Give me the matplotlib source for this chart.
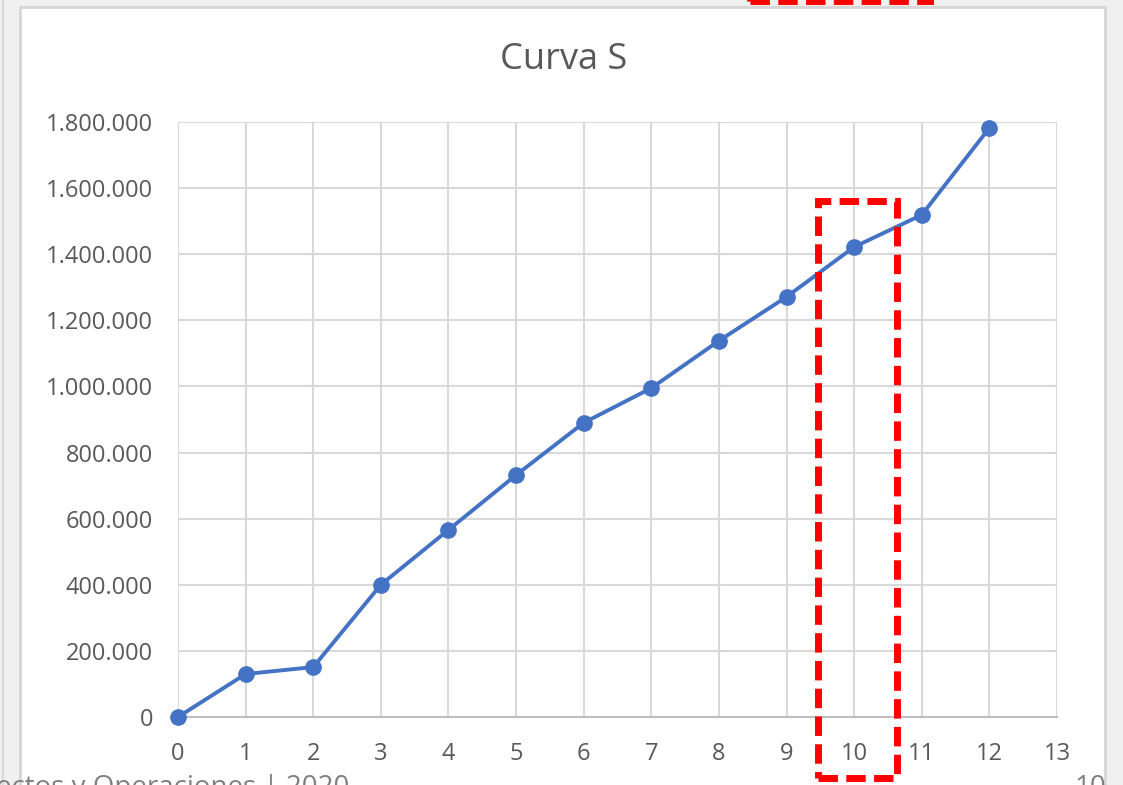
import matplotlib.pyplot as plt
from matplotlib.patches import Rectangle
from matplotlib.ticker import FuncFormatter

periods = list(range(13))
values = [0, 130000, 151000, 400000, 566000, 732000, 890000, 995000,
          1138000, 1271000, 1422000, 1519000, 1782000]
title = "Curva S"
footer_left = "ectos y Operaciones | 2020"
footer_right = "10"

W, H = 1123, 785
plt.rcParams['font.family'] = ['Open Sans', 'DejaVu Sans']
fig = plt.figure(figsize=(W / 100, H / 100), dpi=100)
fig.patch.set_facecolor("#f0f0f0")

def fx(x):
    return x / W

def fy(y):
    return 1 - y / H

# white chart panel
fig.add_artist(Rectangle((fx(20), fy(800)), fx(1105) - fx(20), fy(7) - fy(800),
                         transform=fig.transFigure, facecolor="white",
                         edgecolor="#d6d6d6", lw=2, zorder=-5))
# left panel edge line
fig.add_artist(plt.Line2D([fx(3), fx(3)], [0, 1], transform=fig.transFigure,
                          color="#d9d9d9", lw=1.5, zorder=-5))

ax = fig.add_axes([fx(178), fy(717), fx(1057) - fx(178), fy(122) - fy(717)])
ax.set_zorder(1)
ax.set_facecolor("white")
ax.plot(periods, values, color="#4472c4", lw=2.8, marker="o", markersize=11,
        zorder=3, clip_on=False)
ax.set_xlim(0, 13)
ax.set_ylim(0, 1800000)
ax.set_xticks(range(14))
ax.set_yticks(range(0, 1800001, 200000))
ax.yaxis.set_major_formatter(FuncFormatter(lambda v, p: f"{int(v):,}".replace(",", ".")))
ax.grid(True, color="#d9d9d9", lw=1.5)
ax.set_axisbelow(True)
for s in ["top", "right", "left"]:
    ax.spines[s].set_visible(False)
ax.spines["bottom"].set_color("#bfbfbf")
ax.spines["bottom"].set_linewidth(1.5)
ax.tick_params(length=0, labelsize=17, labelcolor="#595959")
ax.tick_params(axis="y", pad=18)
ax.tick_params(axis="x", pad=18)

fig.text(fx(564), fy(60), title, ha="center", va="center", fontsize=26, color="#595959")

# red dashed highlight boxes
dash = (0, (2.8, 1.2))
fig.add_artist(Rectangle((fx(818), fy(778)), fx(897) - fx(818), fy(201) - fy(778),
                         transform=fig.transFigure, fill=False, edgecolor="#ff0000",
                         lw=5, linestyle=dash, zorder=5))
fig.add_artist(Rectangle((fx(750), fy(1)), fx(930) - fx(750), fy(-60) - fy(1),
                         transform=fig.transFigure, fill=False, edgecolor="#ff0000",
                         lw=5, linestyle=dash, zorder=5))

fig.text(fx(-4), fy(795), footer_left, ha="left", va="baseline", fontsize=20, color="#808080")
fig.text(fx(1074), fy(795), footer_right, ha="left", va="baseline", fontsize=20, color="#808080")

fig.savefig("out.png", dpi=100, facecolor=fig.get_facecolor())
